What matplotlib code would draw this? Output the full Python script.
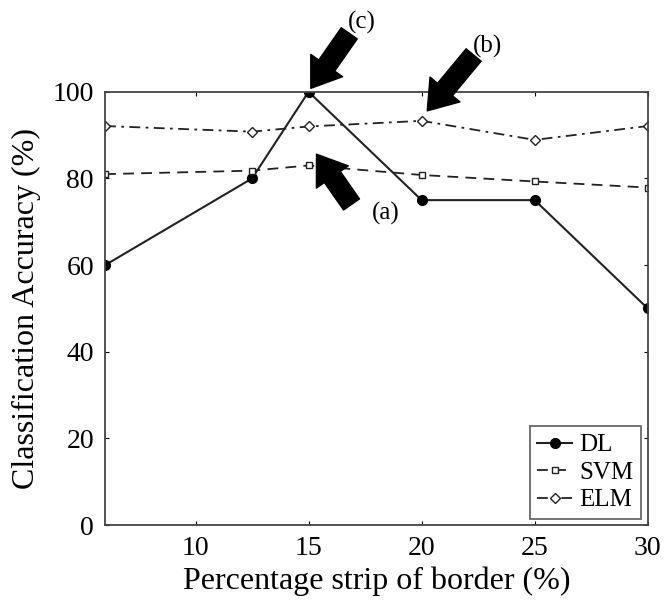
import matplotlib
matplotlib.use("Agg")
import matplotlib.pyplot as plt

plt.rcParams['font.family'] = ['Liberation Serif', 'DejaVu Serif']

strip = [6, 12.5, 15, 20, 25, 30]
accDL = [60, 80, 100, 75, 75, 50]
accSVM = [81, 81.8, 83, 80.8, 79.3, 77.9]
accELM = [92.1, 90.8, 92, 93.3, 88.9, 92.1]

xTicks = [10, 15, 20, 25, 30]
yTicks = [0, 20, 40, 60, 80, 100]

# annotation labels: (text, text pos, arrow tail, arrow tip) in data coords
notes = [("(c)", (17.35, 116.0), (16.8, 113.5), (15.1, 100.8)),
         ("(b)", (22.9, 110.4), (22.3, 108.5), (20.25, 95.6)),
         ("(a)", (18.4, 72.0), (16.9, 74.0), (15.35, 85.6))]

fig = plt.figure(figsize=(6.65, 6.12), dpi=100)
ax = fig.add_axes([0.158, 0.142, 0.816, 0.708])

lc = "#222222"
ax.plot(strip, accDL, "-", color=lc, lw=1.5, marker="o", ms=7,
        mfc="black", mec="black", label="DL")
ax.plot(strip, accSVM, "--", color=lc, lw=1.3, dashes=(6, 4), marker="s", ms=5,
        mfc="white", mec=lc, label="SVM")
ax.plot(strip, accELM, "-.", color=lc, lw=1.3, dashes=(6, 3, 1.5, 3), marker="D", ms=5,
        mfc="white", mec=lc, label="ELM")

ax.set_xlim(6, 30)
ax.set_ylim(0, 100)
ax.set_xticks(xTicks)
ax.set_yticks(yTicks)
ax.tick_params(direction="in", length=3, top=True, right=True, labelsize=20, pad=8)
for s in ax.spines.values():
    s.set_color("#444444")
    s.set_linewidth(1.3)

ax.set_xlabel("Percentage strip of border (%)", fontsize=23, labelpad=4)
ax.set_ylabel("Classification Accuracy (%)", fontsize=23, labelpad=8)

leg = ax.legend(loc="lower right", fontsize=18, handlelength=1.4, handletextpad=0.3,
                borderpad=0.3, labelspacing=0.2, fancybox=False, borderaxespad=0.25)
leg.get_frame().set_edgecolor("#444444")
leg.get_frame().set_linewidth(1.3)

arr = dict(arrowstyle="simple,head_length=2.0,head_width=2.8,tail_width=1.4",
           fc="black", ec="black", shrinkA=0, shrinkB=0)
for txt, tpos, tail, tip in notes:
    ax.text(tpos[0], tpos[1], txt, fontsize=18, ha="center", va="center", clip_on=False)
    ax.annotate("", xy=tip, xytext=tail, annotation_clip=False, arrowprops=arr)

fig.savefig("out.png", dpi=100)
